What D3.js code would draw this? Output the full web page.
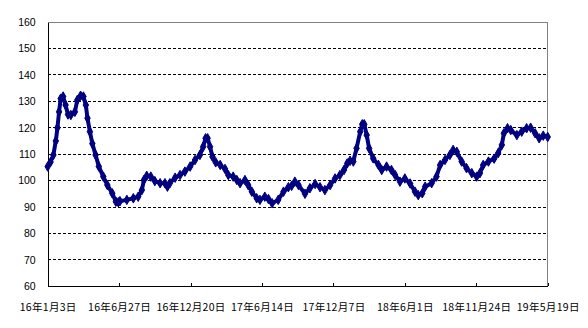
<!DOCTYPE html>
<html><head><meta charset="utf-8">
<script src="https://cdn.jsdelivr.net/npm/d3@7"></script>
<style>body{margin:0;background:#fff}svg{display:block}</style>
</head><body>
<svg id="c" width="588" height="328"></svg>
<script>
// day offset from 2016-01-03
const days = [0,7,14,20,24,28,32,38,44,50,57,67,73,81,88,94,98,104,110,118,126,137,147,159,168,174,178,195,211,223,232,237,244,254,264,277,289,295,301,314,326,338,351,363,375,383,389,394,400,406,414,425,437,445,457,466,474,486,494,503,515,523,535,544,553,568,581,593,601,609,618,634,646,659,671,683,696,708,720,730,738,745,753,761,770,775,780,786,792,802,815,823,835,847,856,868,880,893,905,913,923,930,946,958,967,979,991,999,1008,1020,1032,1045,1057,1065,1073,1086,1100,1110,1119,1124,1133,1141,1156,1168,1180,1190,1201,1211,1221,1232];
const values = [105.3,107,109.7,115,120,126,131,131.8,128.6,125,124.8,126,130.5,132.1,131.8,128.6,123.6,118.5,114,109.7,105.3,101.5,98.3,95.2,92,91.8,92.2,92.7,93.3,93.9,96.4,100.2,101.8,101.5,99.8,99,99,97.7,99,101.1,102.1,103.4,105.3,107.8,109.7,112.8,116,116,112.8,109,106.9,105.9,104.4,102.1,101.5,100.2,99,100.2,98.3,95.8,93.3,92.7,93.9,93,91.4,92.7,95.8,97.5,98,99.6,98.3,95,97.1,98.7,97.5,96.4,98.3,100.8,102.1,104,106.5,107.5,107.2,112.2,118.5,121.3,121.3,117.2,112.2,108.4,105.9,104,105.3,104,102.1,99.6,100.8,98.9,95.8,94.5,95.2,97.7,99,101.5,105.9,107.8,109.7,111.6,110.9,107.2,104.7,102.8,101.5,102.8,105.9,107.2,108.3,110.4,113.5,117.9,119.8,119.1,117.2,118.5,119.8,120,117.9,116,117,116.5];
const tickDays = [0,176,352,528,704,880,1056,1232];
const tickLabels = ["16年1月3日","16年6月27日","16年12月20日","17年6月14日","17年12月7日","18年6月1日","18年11月24日","19年5月19日"];
const yTicks = [60,70,80,90,100,110,120,130,140,150,160];

const svg = d3.select("#c");
const L = 47.7, R = 547.7, T = 22, B = 286.3;
const x = d3.scaleLinear().domain([0,1232]).range([L,R]);
const y = d3.scaleLinear().domain([60,160]).range([B,T]);

// gridlines
svg.append("g").selectAll("line").data(yTicks.filter(v=>v>60 && v<160)).join("line")
  .attr("x1",L).attr("x2",R).attr("y1",d=>y(d)).attr("y2",d=>y(d))
  .attr("stroke","#000").attr("stroke-width",1).attr("stroke-dasharray","3,2")
  .attr("shape-rendering","crispEdges");
// frame top/right
svg.append("path").attr("d",`M${L},${y(160)}H${R}V${B}`).attr("fill","none")
  .attr("stroke","#808080").attr("stroke-width",1).attr("shape-rendering","crispEdges");

// y axis
const yAxis = d3.axisLeft(y).tickValues(yTicks).tickSize(0).tickPadding(12);
const gy = svg.append("g").attr("transform",`translate(${L},0)`).call(yAxis);
gy.select(".domain").attr("stroke","#000").attr("shape-rendering","crispEdges");
gy.selectAll("text").attr("font-family","Liberation Sans, Arial, sans-serif").attr("font-size",10.5).attr("fill","#000");

// x axis
const xAxis = d3.axisBottom(x).tickValues(tickDays).tickSize(-3).tickPadding(17)
  .tickFormat((d,i)=>tickLabels[i]).tickSizeOuter(0);
const gx = svg.append("g").attr("transform",`translate(0,${B})`).call(xAxis);
gx.select(".domain").attr("stroke","#000").attr("shape-rendering","crispEdges");
gx.selectAll("line").attr("stroke","#000").attr("shape-rendering","crispEdges");
gx.selectAll("text").attr("font-family","Noto Sans CJK JP, sans-serif").attr("font-size",10.5)
  .attr("letter-spacing","0.3px").attr("fill","#000");

// series
const pts = days.map((d,i)=>[d,values[i]]);
svg.append("path").datum(pts)
  .attr("d", d3.line().x(d=>x(d[0])).y(d=>y(d[1])))
  .attr("fill","none").attr("stroke","#000080").attr("stroke-width",4).attr("stroke-linejoin","round");
const sym = d3.symbol().type(d3.symbolDiamond).size(26);
svg.append("g").selectAll("path").data(pts).join("path")
  .attr("d",sym).attr("transform",d=>`translate(${x(d[0])},${y(d[1])})`)
  .attr("fill","#000080").attr("stroke","#000080").attr("stroke-width",1);
</script>
</body></html>
